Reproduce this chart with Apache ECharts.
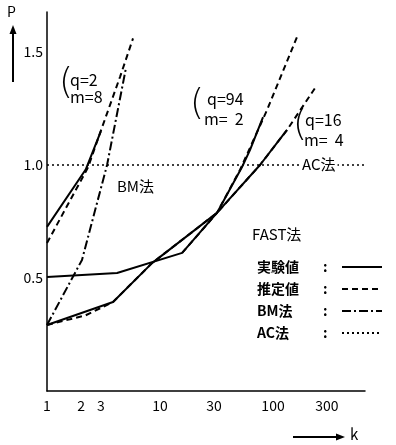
<!DOCTYPE html>
<html>
<head>
<meta charset="utf-8">
<script src="https://cdn.jsdelivr.net/npm/echarts@6/dist/echarts.min.js"></script>
<style>
html, body { margin: 0; padding: 0; background: #fff; }
#chart { width: 396px; height: 445px; }
</style>
</head>
<body>
<div id="chart"></div>
<script>
const chartDom = document.getElementById('chart');
const myChart = echarts.init(chartDom);

// [k, P]
const solidQ2 = [[1, 0.726], [2.2, 0.98], [3.0, 1.15]];
const dashedQ2 = [[1, 0.655], [2.31, 0.99], [2.94, 1.14], [4.43, 1.39], [5.77, 1.56]];
const bmQ2 = [[1, 0.292], [2.04, 0.58], [3.4, 1.0], [5.0, 1.43]];

const solidQ94 = [[1, 0.504], [4.17, 0.522], [15.7, 0.611], [31.9, 0.788], [53.2, 0.991], [62.5, 1.066], [81.6, 1.212]];
const dashedQ94 = [[15.7, 0.611], [31.9, 0.788], [51, 0.978], [88.5, 1.243], [163, 1.566]];

const solidQ16 = [[1, 0.292], [3.84, 0.394], [8.5, 0.566], [31.9, 0.788], [76.7, 1.0], [133, 1.155]];
const dashedQ16 = [[1, 0.292], [2.2, 0.335], [3.84, 0.394], [8.5, 0.566], [31.9, 0.788], [76.7, 1.0], [133, 1.155], [235, 1.34]];

const acLine = [[1, 1.0], [1230, 1.0]];

const xTicks = [1, 2, 3, 10, 30, 100, 300];
const yTicks = [0.5, 1.0, 1.5];

const font = '"Noto Sans CJK JP", "Noto Sans", sans-serif';

function toLog(points) {
    return points.map(p => [Math.log10(p[0]), p[1]]);
}

function lineSeries(name, points, type, width) {
    return {
        name: name,
        type: 'line',
        data: toLog(points),
        symbol: 'none',
        smooth: false,
        clip: false,
        lineStyle: { color: '#000', width: width || 2, type: type },
        itemStyle: { color: '#000' }
    };
}

const DASH = [6, 4];
const DASHDOT = [9, 3, 2, 3];
const DOT = [2, 3];

const option = {
    animation: false,
    backgroundColor: '#fff',
    grid: { left: 47, top: 12, width: 318, height: 379 },
    xAxis: {
        type: 'value',
        min: 0,
        max: 2.814,
        axisLine: { lineStyle: { color: '#000', width: 1.5 } },
        axisTick: { show: false },
        splitLine: { show: false },
        axisLabel: {
            customValues: xTicks.map(v => Math.log10(v)),
            formatter: v => String(Math.round(Math.pow(10, v))),
            color: '#000',
            fontSize: 14,
            fontFamily: font,
            margin: 8
        }
    },
    yAxis: {
        type: 'value',
        min: 0,
        max: 1.677,
        axisLine: { show: true, lineStyle: { color: '#000', width: 1.5 } },
        axisTick: { show: false },
        splitLine: { show: false },
        axisLabel: {
            customValues: yTicks,
            formatter: v => v.toFixed(1),
            color: '#000',
            fontSize: 14,
            fontFamily: font,
            margin: 4
        }
    },
    legend: {
        data: ['実験値', '推定値', 'BM法', 'AC法'],
        orient: 'vertical',
        left: 252,
        top: 255,
        align: 'right',
        itemWidth: 40,
        itemHeight: 14,
        itemGap: 8,
        selectedMode: false,
        itemStyle: { opacity: 0 },
        formatter: name => '{n|' + name + '}{c|:}',
        textStyle: {
            color: '#000',
            fontFamily: font,
            fontSize: 14,
            rich: {
                n: { width: 66, align: 'left', fontSize: 14, fontFamily: font, color: '#000', fontWeight: 'bold' },
                c: { width: 14, align: 'left', fontSize: 14, fontFamily: font, color: '#000', fontWeight: 'bold' }
            }
        }
    },
    graphic: [
        // P arrow
        { type: 'line', shape: { x1: 13, y1: 82, x2: 13, y2: 32 }, style: { stroke: '#000', lineWidth: 2 } },
        { type: 'polygon', shape: { points: [[13, 25], [9.5, 34], [16.5, 34]] }, style: { fill: '#000' } },
        { type: 'text', left: 7, top: 5, style: { text: 'P', font: '14px ' + font, fill: '#000' } },
        // k arrow
        { type: 'line', shape: { x1: 293, y1: 437, x2: 337, y2: 437 }, style: { stroke: '#000', lineWidth: 2 } },
        { type: 'polygon', shape: { points: [[345, 437], [336, 433.5], [336, 440.5]] }, style: { fill: '#000' } },
        { type: 'text', left: 350, top: 427, style: { text: 'k', font: '15px ' + font, fill: '#000' } },
        // group labels
        { type: 'text', left: 59, top: 66, style: { text: '(', font: '300 36px "DejaVu Sans"', fill: '#000' } },
        { type: 'text', left: 70, top: 72, style: { text: 'q=2', font: '16px ' + font, fill: '#000' } },
        { type: 'text', left: 70, top: 89, style: { text: 'm=8', font: '16px ' + font, fill: '#000' } },
        { type: 'text', left: 190, top: 87, style: { text: '(', font: '300 36px "DejaVu Sans"', fill: '#000' } },
        { type: 'text', left: 207, top: 91, style: { text: 'q=94', font: '16px ' + font, fill: '#000' } },
        { type: 'text', left: 204, top: 111, style: { text: 'm=  2', font: '16px ' + font, fill: '#000' } },
        { type: 'text', left: 293, top: 108, style: { text: '(', font: '300 36px "DejaVu Sans"', fill: '#000' } },
        { type: 'text', left: 305, top: 112, style: { text: 'q=16', font: '16px ' + font, fill: '#000' } },
        { type: 'text', left: 304, top: 132, style: { text: 'm=  4', font: '16px ' + font, fill: '#000' } },
        { type: 'text', left: 117, top: 179, style: { text: 'BM法', font: '15px ' + font, fill: '#000' } },
        { type: 'text', left: 300, top: 157, z: 100, style: { text: 'AC法', font: '15px ' + font, fill: '#000', backgroundColor: '#fff', padding: [0, 2] } },
        { type: 'text', left: 252, top: 227, style: { text: 'FAST法', font: '15px ' + font, fill: '#000' } }
    ],
    series: [
        lineSeries('実験値', solidQ2, 'solid'),
        lineSeries('実験値', solidQ94, 'solid'),
        lineSeries('実験値', solidQ16, 'solid'),
        lineSeries('推定値', dashedQ2, DASH),
        lineSeries('推定値', dashedQ94, DASH),
        lineSeries('推定値', dashedQ16, DASH),
        lineSeries('BM法', bmQ2, DASHDOT),
        lineSeries('AC法', acLine, DOT, 1.5)
    ]
};

myChart.setOption(option);
</script>
</body>
</html>
